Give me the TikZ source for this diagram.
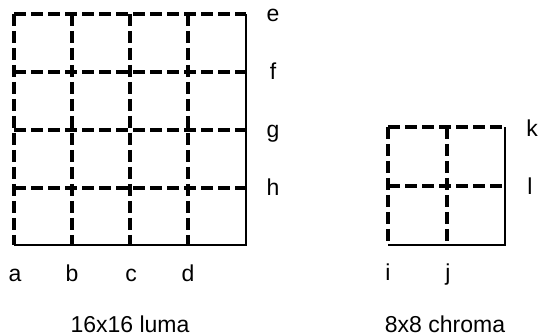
\documentclass[tikz,border=0pt]{standalone}
\usepackage{fontspec}
\setmainfont{Liberation Sans}
\usetikzlibrary{backgrounds}
\tikzset{
  gridline/.style={line width=4.2pt, dash pattern=on 12pt off 5pt},
  edgeline/.style={line width=1.4pt},
  lbl/.style={font=\fontsize{23}{27}\selectfont, inner sep=0pt, anchor=base}
}

\begin{document}
\begin{tikzpicture}[x=1pt,y=-1pt]
\useasboundingbox (0,0) rectangle (540,336);
% 16x16 luma
\draw[edgeline] (14,245) -- (246,245) -- (246,14);
\foreach \y in {14,72,130,188}
  \draw[gridline] (14,\y) -- (246,\y);
\foreach \x in {14,72,130,188}
  \draw[gridline] (\x,14) -- (\x,245);
\foreach \name/\y in {e/22,f/80,g/138,h/196}
  \node[lbl] (\name) at (273,\y) {\name};
\foreach \name/\x in {a/15,b/72,c/131,d/188}
  \node[lbl] (\name) at (\x,282) {\name};
\node[lbl] (luma) at (130,332) {16x16 luma};
% 8x8 chroma
\draw[edgeline] (388,245) -- (505,245) -- (505,127);
\foreach \y in {127,186}
  \draw[gridline] (388,\y) -- (505,\y);
\foreach \x in {388,447}
  \draw[gridline] (\x,127) -- (\x,245);
\node[lbl] (k) at (532,137) {k};
\node[lbl] (l) at (530,195) {l};
\node[lbl] (i) at (388,280) {i};
\node[lbl] (j) at (448,280) {j};
\node[lbl] (chroma) at (445,332) {8x8 chroma};
\end{tikzpicture}
\end{document}
